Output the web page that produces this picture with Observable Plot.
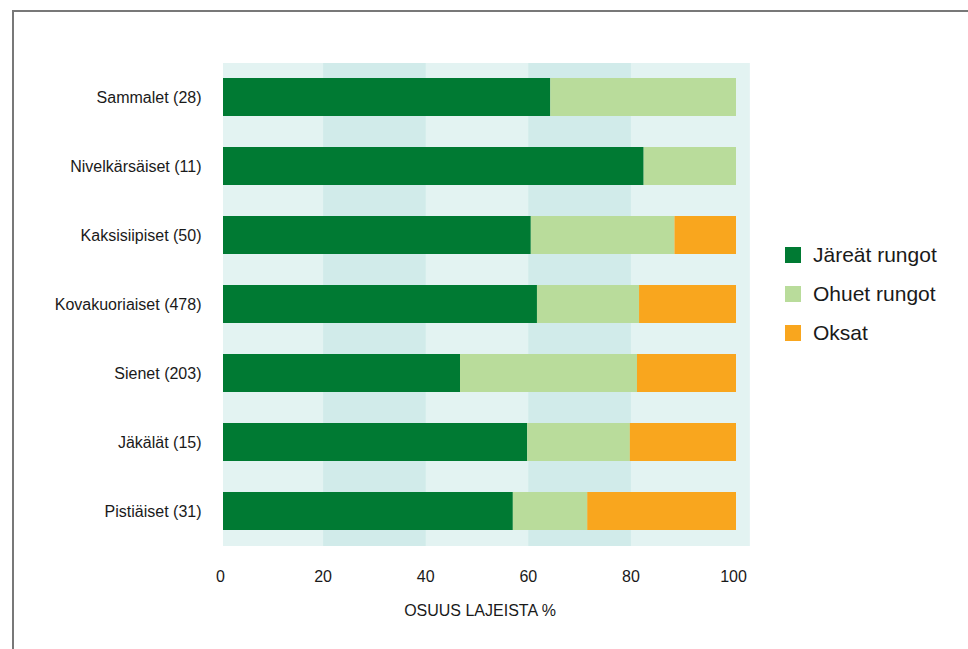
<!DOCTYPE html>
<html>
<head>
<meta charset="utf-8">
<script src="https://cdn.jsdelivr.net/npm/d3@7"></script>
<script src="https://cdn.jsdelivr.net/npm/@observablehq/plot@0.6"></script>
<style>
  html, body { margin: 0; padding: 0; background: #fff; }
  #wrap { position: relative; width: 968px; height: 649px; overflow: hidden;
          font-family: "Liberation Sans", Arial, sans-serif; }
  #frame { position: absolute; left: 12px; top: 10px; right: -10px; bottom: -10px;
           border-top: 2px solid #787878; border-left: 2px solid #787878; }
  #chart { position: absolute; left: 0; top: 0; }
  #legend { position: absolute; left: 785px; top: 0; }
  .item { position: absolute; left: 0; height: 24px; display: flex; align-items: center;
          white-space: nowrap; font-size: 21px; color: #1a1a1a; }
  .sw { width: 16px; height: 16px; margin-right: 12px; flex: none; }
</style>
</head>
<body>
<div id="wrap">
  <div id="frame"></div>
  <div id="chart"></div>
  <div id="legend"></div>
</div>
<script>
// Species groups (number of species in parentheses)
const groups = ["Sammalet", "Nivelkärsäiset", "Kaksisiipiset", "Kovakuoriaiset", "Sienet", "Jäkälät", "Pistiäiset"];
const counts = [28, 11, 50, 478, 203, 15, 31];

// Share of species (%) by dead-wood type
const series = ["Järeät rungot", "Ohuet rungot", "Oksat"];
const jareat = [63.8, 82.0, 60.0, 61.2, 46.2, 59.3, 56.5];
const ohuet  = [36.2, 18.0, 28.0, 19.9, 34.5, 20.0, 14.5];
const oksat  = [ 0.0,  0.0, 12.0, 18.9, 19.3, 20.7, 29.0];
const seriesColors = ["#007a33", "#b9dc9b", "#f9a61e"];

// Axis
const xTicks = [0, 20, 40, 60, 80, 100];
const xTitle = "OSUUS LAJEISTA %";

// Background stripes behind the bars
const lightBands = [[0, 102.7]];
const darkBands = [[20, 40], [60, 80]];

const labels = groups.map((g, i) => `${g} (${counts[i]})`);
const values = [jareat, ohuet, oksat];
const rows = [];
series.forEach((s, k) => {
  labels.forEach((lab, i) => rows.push({label: lab, series: s, value: values[k][i]}));
});

const textColor = "#1a1a1a";
const chart = Plot.plot({
  width: 968,
  height: 649,
  marginLeft: 223,
  marginRight: 232,
  marginTop: 63,
  marginBottom: 103,
  style: {
    fontFamily: '"Liberation Sans", Arial, sans-serif',
    fontSize: "16px",
    color: textColor,
    background: "transparent",
    overflow: "visible"
  },
  x: {domain: [0, 100]},
  y: {domain: labels, paddingInner: 0.447, paddingOuter: 0.2},
  color: {domain: series, range: seriesColors},
  marks: [
    Plot.rect(lightBands, {x1: d => d[0], x2: d => d[1], fill: "#e3f3f2"}),
    Plot.rect(darkBands, {x1: d => d[0], x2: d => d[1], dx: -2.5, fill: "#d1ebea"}),
    Plot.barX(rows, {x: "value", y: "label", fill: "series"}),
    Plot.axisX({ticks: xTicks, tickSize: 0, tickPadding: 24, dx: -3, fontSize: 16, label: null, fill: textColor}),
    Plot.axisY({tickSize: 0, tickPadding: 22, fontSize: 16, label: null, fill: textColor}),
    Plot.text([xTitle], {frameAnchor: "bottom", dy: 69, fontSize: 16, fill: textColor})
  ]
});
document.getElementById("chart").append(chart);

// Legend
const legend = document.getElementById("legend");
series.forEach((s, i) => {
  const item = document.createElement("div");
  item.className = "item";
  item.style.top = (243 + i * 39) + "px";
  const sw = document.createElement("div");
  sw.className = "sw";
  sw.style.background = seriesColors[i];
  const t = document.createElement("span");
  t.textContent = s;
  item.append(sw, t);
  legend.append(item);
});
</script>
</body>
</html>
